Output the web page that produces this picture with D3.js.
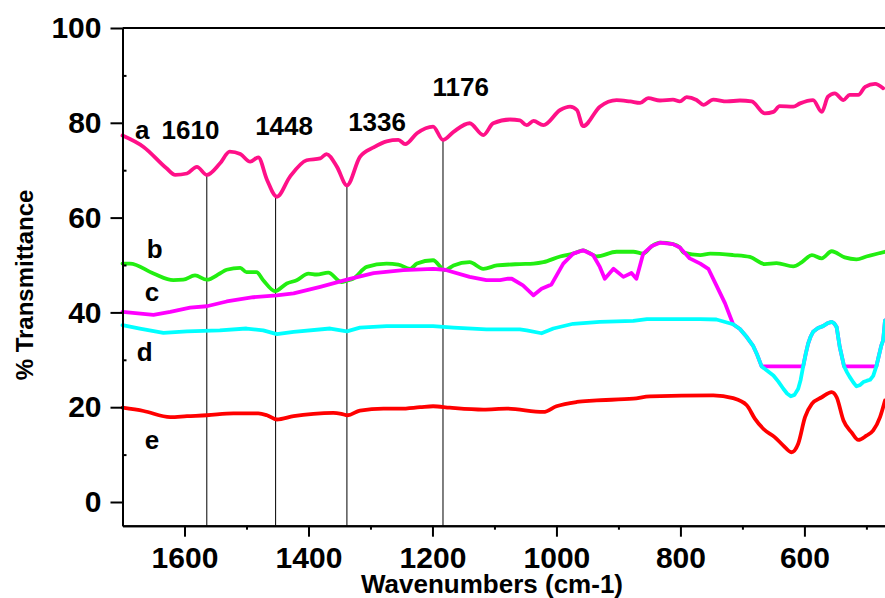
<!DOCTYPE html>
<html>
<head>
<meta charset="utf-8">
<script src="https://cdn.jsdelivr.net/npm/d3@7"></script>
<style>
    body { margin: 0; background: #fff; }
    text { font-family: "Liberation Sans", Arial, sans-serif; font-weight: bold; fill: #000; }
</style>
</head>
<body>
<div id="chart"></div>
<script>
// wavenumber (cm-1) / % transmittance
var waveA = [1700,1666,1629,1615,1596,1580,1564,1543,1527,1510,1494,1481,1467,1451,1430,1403,1381,1371,1354,1338,1317,1295,1274,1255,1244,1225,1199,1183,1166,1140,1118,1102,1075,1059,1048,1037,1021,994,978,967,957,930,903,881,865,852,833,812,801,790,774,763,747,725,704,685,664,650,640,618,607,586,572,562,551,537,527,513,502,486,473];
var transA = [77.3,74.9,70.4,69.0,69.3,70.7,69.0,71.4,73.9,73.4,71.8,72.7,68.0,64.4,68.6,72.1,72.5,73.4,70.7,66.8,72.8,74.8,76.1,76.4,75.5,77.8,79.2,76.4,78.1,79.9,77.4,79.9,80.7,80.5,79.5,80.4,79.5,82.7,83.4,82.7,79.3,83.4,84.8,84.5,84.2,85.2,84.7,84.9,84.5,85.4,84.8,83.8,84.9,84.5,84.7,84.5,82.0,82.3,83.5,83.4,84.1,84.8,82.3,85.5,86.2,84.8,85.9,85.9,87.6,88.2,87.3];

var waveB = [1700,1688,1650,1618,1602,1583,1564,1543,1532,1510,1500,1484,1473,1454,1435,1419,1400,1387,1368,1347,1338,1328,1306,1274,1255,1236,1225,1199,1180,1166,1140,1118,1096,1059,1037,1021,994,973,957,941,935,903,876,860,846,833,812,801,795,768,752,715,688,664,645,618,604,588,572,556,535,516,500,470];
var transB = [50.3,50.3,48.2,46.8,46.9,47.8,46.9,48.2,49.0,49.4,48.5,48.5,46.8,44.5,46.1,46.8,48.2,48.0,48.4,46.4,46.7,47.1,49.6,50.3,50.1,49.2,50.3,51.0,48.9,49.9,50.6,49.2,49.9,50.2,50.3,50.6,51.8,52.4,53.1,52.1,51.8,52.8,52.8,52.4,54.0,54.7,54.4,53.7,52.6,52.1,52.4,52.1,51.7,50.2,50.4,49.7,50.6,52.1,51.4,52.9,51.6,51.2,51.8,52.8];

var waveC = [1700,1650,1623,1591,1564,1532,1489,1451,1424,1381,1338,1295,1247,1199,1180,1140,1113,1091,1078,1072,1054,1037,1024,1008,989,973,957,941,930,922,908,892,879,871,860,846,833,812,801,785,768,755,742,728,715,704,693,683,676,669,602,598,594,590,586,578,570,563,556,552,548,543,536,484,480,476,473,470];
var transC = [40.1,39.5,40.1,41.0,41.3,42.3,43.2,43.6,44.0,45.4,46.9,48.3,48.9,49.2,49.0,47.5,46.8,46.8,47.1,47.1,45.7,43.6,45.0,45.9,50.3,52.4,53.1,52.1,49.6,47.1,49.2,47.5,48.3,47.1,52.4,54.0,54.7,54.4,53.7,51.4,50.3,49.2,45.7,41.9,37.5,36.5,34.8,33.0,31.0,28.6,28.6,31.2,33.4,34.9,35.9,36.7,37.1,37.7,38.0,37.7,36.9,32.7,28.6,28.6,30.8,33.0,34.1,38.3];

var waveD = [1700,1672,1634,1596,1543,1500,1473,1451,1424,1365,1338,1317,1274,1199,1166,1113,1059,1048,1024,1005,973,930,876,854,768,742,715,704,693,683,676,669,660,650,642,634,628,622,616,610,606,602,598,594,590,586,578,570,563,556,552,548,543,536,531,527,521,516,510,505,499,494,489,484,480,476,473,470];
var transD = [37.3,36.6,35.7,36.0,36.2,36.6,36.2,35.4,35.9,36.6,36.0,36.8,37.1,37.1,36.8,36.4,36.4,36.2,35.6,36.6,37.6,38.0,38.2,38.6,38.6,38.5,37.5,36.5,34.8,33.0,31.0,28.6,27.7,26.7,25.4,23.9,22.9,22.3,22.6,23.9,25.8,28.6,31.2,33.4,34.9,35.9,36.7,37.1,37.7,38.0,37.7,36.9,32.7,28.6,27.3,26.4,25.2,24.4,24.7,25.3,25.6,25.8,26.6,28.6,30.8,33.0,34.1,38.3];

var waveE = [1700,1666,1623,1596,1564,1521,1481,1467,1451,1424,1392,1360,1347,1337,1317,1279,1252,1220,1199,1172,1118,1080,1021,1000,967,941,876,849,747,715,693,680,666,648,634,621,610,599,588,572,556,548,537,524,513,500,489,478,470];
var transE = [19.9,19.2,17.9,18.1,18.3,18.7,18.7,18.3,17.4,18.1,18.6,18.8,18.6,18.3,19.3,19.7,19.7,20.0,20.2,19.9,19.5,19.7,19.0,20.2,21.1,21.4,21.8,22.3,22.5,21.9,20.4,17.6,15.4,13.7,11.9,10.5,12.3,17.9,20.7,22.1,23.2,22.1,17.2,14.7,13.1,14.0,15.1,17.9,21.4];

var seriesNames = ["a", "b", "c", "d", "e"];
var seriesColors = ["#ff1088", "#22ee11", "#ff00ff", "#00ffff", "#ff0000"];

// peak markers: where the line is drawn, the value it starts from, and the printed label
var peakWave = [1564, 1453, 1338, 1183];
var peakTop = [69.0, 64.4, 66.8, 76.4];
var peakLabels = ["1610", "1448", "1336", "1176"];

var xTicks = [1600, 1400, 1200, 1000, 800, 600];
var xMinor = [1500, 1300, 1100, 900, 700, 500];
var yTicks = [0, 20, 40, 60, 80, 100];
var yMinor = [10, 30, 50, 70, 90];

var width = 885, height = 598;

var svg = d3.select("#chart")
    .append("svg")
        .attr("width", width)
        .attr("height", height)
        .attr("xmlns", "http://www.w3.org/2000/svg")

var x = d3.scaleLinear().domain([1700, 470]).range([122.5, 885])
var y = d3.scaleLinear().domain([-5, 100]).range([525.7, 28])

// frame top
svg.append("line")
    .attr("x1", x(1700)).attr("x2", x(470))
    .attr("y1", y(100)).attr("y2", y(100))
    .attr("stroke", "#000")
    .attr("stroke-width", 2)

// peak marker lines
svg.append("g")
    .selectAll("line")
    .data(peakWave)
    .join("line")
        .attr("x1", function(d) { return x(d) })
        .attr("x2", function(d) { return x(d) })
        .attr("y1", function(d, i) { return y(peakTop[i]) })
        .attr("y2", y(-5))
        .attr("stroke", "#000")
        .attr("stroke-width", 1)

// spectra
var waves = [waveA, waveB, waveC, waveD, waveE];
var trans = [transA, transB, transC, transD, transE];

function makeLine(curve) {
    return d3.line()
        .x(function(d) { return x(d[0]) })
        .y(function(d) { return y(d[1]) })
        .curve(curve)
}

waves.forEach(function(w, i) {
    var pts = w.map(function(v, j) { return [v, trans[i][j]] })
    // c runs under d where they meet, both kept straight so c stays hidden
    var curve = (seriesNames[i] == "c" || seriesNames[i] == "d") ? d3.curveLinear : d3.curveMonotoneX
    svg.append("path")
        .datum(pts)
        .attr("d", makeLine(curve))
        .attr("fill", "none")
        .attr("stroke", seriesColors[i])
        .attr("stroke-width", 3.8)
        .attr("stroke-linejoin", "round")
        .attr("stroke-linecap", "round")
})

// axes
var xAxis = svg.append("g")
    .attr("transform", "translate(0," + y(-5) + ")")
    .call(d3.axisBottom(x).tickValues(xTicks).tickSize(11).tickSizeOuter(0).tickPadding(10).tickFormat(d3.format("d")))

var xAxisMinor = svg.append("g")
    .attr("transform", "translate(0," + y(-5) + ")")
    .call(d3.axisBottom(x).tickValues(xMinor).tickSize(4).tickSizeOuter(0).tickFormat(""))

var yAxis = svg.append("g")
    .attr("transform", "translate(" + x(1700) + ",0)")
    .call(d3.axisLeft(y).tickValues(yTicks).tickSize(12).tickSizeOuter(0).tickPadding(9).tickFormat(d3.format("d")))

var yAxisMinor = svg.append("g")
    .attr("transform", "translate(" + x(1700) + ",0)")
    .call(d3.axisLeft(y).tickValues(yMinor).tickSize(-4).tickSizeOuter(0).tickFormat(""))

svg.selectAll(".domain, .tick line")
    .attr("stroke", "#000")
    .attr("stroke-width", 2)

svg.selectAll(".tick text")
    .style("font-family", "'Liberation Sans', Arial, sans-serif")
    .style("font-weight", "bold")
    .style("font-size", "30px")
    .attr("fill", "#000")

// axis titles
svg.append("text")
    .attr("x", 492)
    .attr("y", 593)
    .attr("text-anchor", "middle")
    .style("font-size", "26px")
    .text("Wavenumbers (cm-1)")

svg.append("text")
    .attr("transform", "translate(33,285) rotate(-90)")
    .attr("text-anchor", "middle")
    .style("font-size", "24px")
    .text("% Transmittance")

// peak labels
var peakLabelWave = [1637, 1486, 1336, 1200];
var peakLabelValue = [76.6, 77.4, 78.3, 85.7];

svg.append("g")
    .selectAll("text")
    .data(peakLabels)
    .join("text")
        .attr("x", function(d, i) { return x(peakLabelWave[i]) })
        .attr("y", function(d, i) { return y(peakLabelValue[i]) })
        .style("font-size", "26px")
        .text(function(d) { return d })

// curve letters
var nameWave = [1680, 1661, 1664, 1677, 1664];
var nameValue = [76.6, 51.5, 42.4, 29.8, 11.2];

svg.append("g")
    .selectAll("text")
    .data(seriesNames)
    .join("text")
        .attr("x", function(d, i) { return x(nameWave[i]) })
        .attr("y", function(d, i) { return y(nameValue[i]) })
        .style("font-size", "26px")
        .text(function(d) { return d })
</script>
</body>
</html>
